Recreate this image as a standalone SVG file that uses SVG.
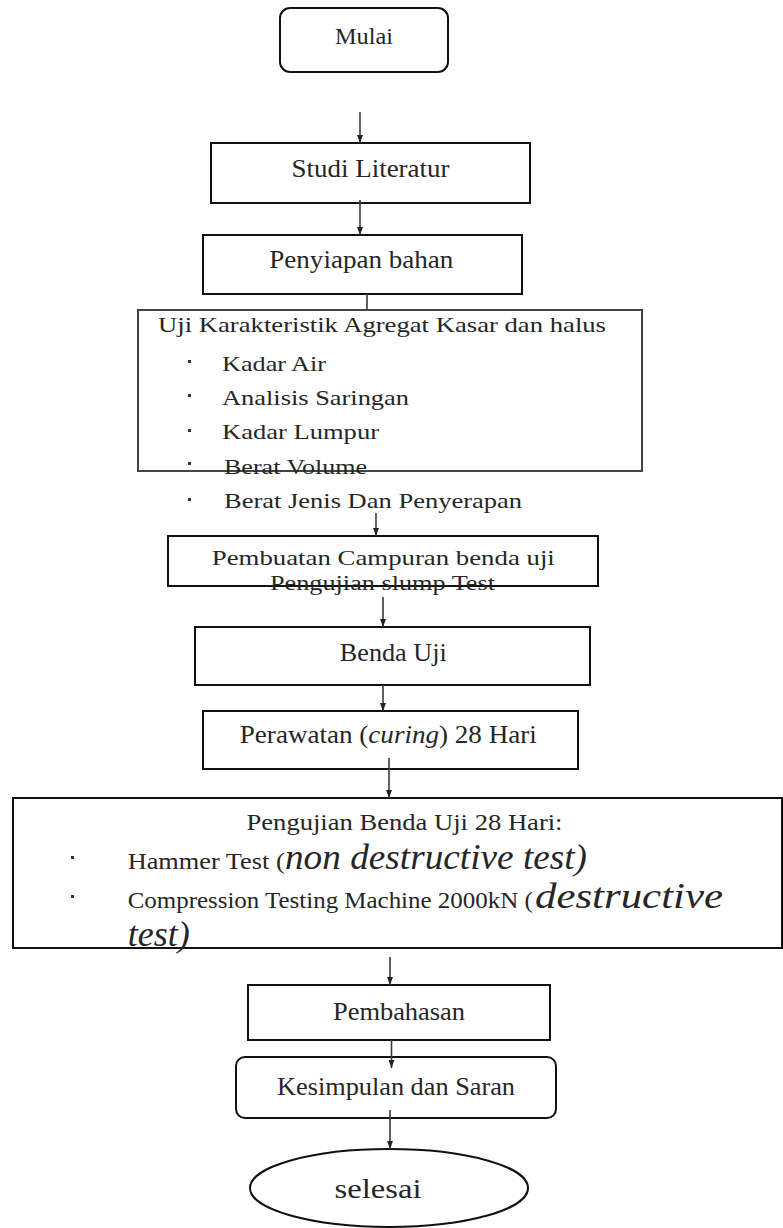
<svg xmlns="http://www.w3.org/2000/svg" width="783" height="1228" viewBox="0 0 783 1228">
<defs>
<style>
.box{fill:#fff;stroke:#111;stroke-width:2}
.t{font-family:"Liberation Serif","Times New Roman",serif;fill:#262626}
.m{text-anchor:middle}
.i{font-style:italic}
.c{stroke:#3a3a3a;stroke-width:1.6;fill:none}
.a{marker-end:url(#arr)}
.b{fill:#333}
</style>
<marker id="arr" markerUnits="userSpaceOnUse" markerWidth="8" markerHeight="6" refX="8" refY="3" orient="auto">
<path d="M0,0 L8,3 L0,6 z" fill="#222"/>
</marker>
</defs>
<rect width="783" height="1228" fill="#fff"/>

<g id="mulai">
<rect class="box" x="280" y="8" width="168" height="64" rx="10"/>
<text class="t m" x="364" y="44" font-size="24" textLength="58" lengthAdjust="spacingAndGlyphs">Mulai</text>
</g>

<g id="studi">
<rect class="box" x="211" y="143" width="319" height="60"/>
<text class="t m" x="370.5" y="177" font-size="25" textLength="158" lengthAdjust="spacingAndGlyphs">Studi Literatur</text>
</g>

<g id="penyiapan">
<rect class="box" x="203" y="235" width="319" height="59"/>
<text class="t m" x="361.3" y="268" font-size="25" textLength="184" lengthAdjust="spacingAndGlyphs">Penyiapan bahan</text>
</g>

<g id="uji">
<rect class="box" x="138" y="310" width="504" height="161" style="stroke:#444"/>
<text class="t" x="158" y="332" font-size="22" textLength="448" lengthAdjust="spacingAndGlyphs">Uji Karakteristik Agregat Kasar dan halus</text>
<rect class="b" x="188" y="360" width="3" height="3"/>
<rect class="b" x="188" y="394" width="3" height="3"/>
<rect class="b" x="188" y="429" width="3" height="3"/>
<rect class="b" x="188" y="462" width="3" height="3"/>
<rect class="b" x="188" y="498" width="3" height="3"/>
<text class="t" x="222" y="371" font-size="22" textLength="104" lengthAdjust="spacingAndGlyphs">Kadar Air</text>
<text class="t" x="222" y="405" font-size="22" textLength="187" lengthAdjust="spacingAndGlyphs">Analisis Saringan</text>
<text class="t" x="222" y="439" font-size="22" textLength="157" lengthAdjust="spacingAndGlyphs">Kadar Lumpur</text>
<text class="t" x="224" y="474" font-size="22" textLength="143" lengthAdjust="spacingAndGlyphs">Berat Volume</text>
<text class="t" x="224" y="508" font-size="22" textLength="298" lengthAdjust="spacingAndGlyphs">Berat Jenis Dan Penyerapan</text>
</g>

<g id="pembuatan">
<rect class="box" x="168" y="536" width="430" height="50"/>
<text class="t m" x="383.3" y="565" font-size="22" textLength="343" lengthAdjust="spacingAndGlyphs">Pembuatan Campuran benda uji</text>
<text class="t m" x="382.5" y="590" font-size="22" textLength="225" lengthAdjust="spacingAndGlyphs">Pengujian slump Test</text>
</g>

<g id="benda">
<rect class="box" x="195" y="627" width="395" height="58"/>
<text class="t m" x="393.3" y="660.7" font-size="25" textLength="107" lengthAdjust="spacingAndGlyphs">Benda Uji</text>
</g>

<g id="perawatan">
<rect class="box" x="203" y="711" width="375" height="58"/>
<text class="t m" x="388.3" y="743" font-size="25" textLength="297" lengthAdjust="spacingAndGlyphs">Perawatan (<tspan class="i">curing</tspan>) 28 Hari</text>
</g>

<g id="pengujian">
<rect class="box" x="13" y="798" width="769" height="150"/>
<text class="t m" x="404.5" y="830" font-size="24" textLength="316" lengthAdjust="spacingAndGlyphs">Pengujian Benda Uji 28 Hari:</text>
<rect class="b" x="71" y="856" width="3" height="3"/>
<rect class="b" x="71" y="895" width="3" height="3"/>
<text class="t" x="127.7" y="869" font-size="24" textLength="157" lengthAdjust="spacingAndGlyphs">Hammer Test (</text>
<text class="t i" x="285" y="869" font-size="36" textLength="302" lengthAdjust="spacingAndGlyphs">non destructive test)</text>
<text class="t" x="127.7" y="908" font-size="24" textLength="405" lengthAdjust="spacingAndGlyphs">Compression Testing Machine 2000kN (</text>
<text class="t i" x="535" y="908" font-size="36" textLength="188" lengthAdjust="spacingAndGlyphs">destructive</text>
<text class="t i" x="127.7" y="946" font-size="36" textLength="62" lengthAdjust="spacingAndGlyphs">test)</text>
</g>

<g id="pembahasan">
<rect class="box" x="248" y="985" width="302" height="55"/>
<text class="t m" x="399" y="1020" font-size="25" textLength="132" lengthAdjust="spacingAndGlyphs">Pembahasan</text>
</g>

<g id="kesimpulan">
<rect class="box" x="236" y="1057" width="320" height="61" rx="9"/>
<text class="t m" x="396" y="1095" font-size="25" textLength="238" lengthAdjust="spacingAndGlyphs">Kesimpulan dan Saran</text>
</g>

<g id="selesai">
<ellipse class="box" cx="389" cy="1188" rx="139" ry="39"/>
<text class="t m" x="378" y="1198" font-size="27" textLength="87" lengthAdjust="spacingAndGlyphs">selesai</text>
</g>

<g id="connectors">
<path class="c a" d="M360,112 V143"/>
<path class="c a" d="M360,200 V235"/>
<path class="c" d="M367,294 V310"/>
<path class="c a" d="M376,513 V536"/>
<path class="c a" d="M383,597 V627"/>
<path class="c a" d="M383,685 V711"/>
<path class="c a" d="M389,758 V798"/>
<path class="c a" d="M390,957 V985"/>
<path class="c a" d="M391.5,1040 V1068"/>
<path class="c a" d="M390,1110 V1149"/>
</g>
</svg>
